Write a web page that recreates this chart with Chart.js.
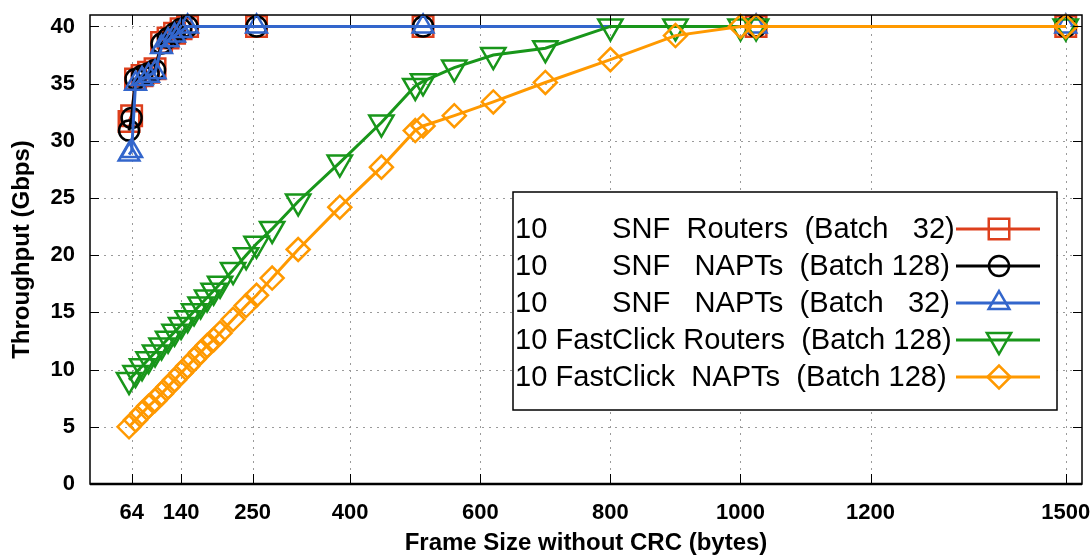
<!DOCTYPE html>
<html>
<head>
<meta charset="utf-8">
<title>Throughput vs frame size</title>
<script src="https://cdn.jsdelivr.net/npm/chart.js@4.4.1/dist/chart.umd.min.js"></script>
<style>
  body { margin: 0; background: #fff; }
  #wrap { width: 1090px; height: 558px; }
</style>
</head>
<body>
<div id="wrap"><canvas id="tputChart" width="1090" height="558"></canvas></div>
<script>
// frame sizes (bytes, without CRC)
const snfSizes = [60, 64, 70, 80, 90, 100, 110, 120, 130, 140, 150, 256, 512, 1024, 1500];
const fcSizes = [60, 70, 80, 90, 100, 110, 120, 130, 140, 150, 160, 170, 180, 190, 200,
  220, 240, 256, 280, 320, 384, 448, 500, 512, 560, 620, 700, 800, 900, 1000, 1024, 1500];

// throughput in Gbps
const snfRouters32 = [31.7, 32.2, 35.4, 35.7, 36.0, 36.3, 38.6, 39.0, 39.4, 39.8, 40.0, 40.0, 40.0, 40.0, 40.0];
const snfNapts128 = [30.9, 32.0, 35.4, 35.7, 35.9, 36.2, 38.5, 39.0, 39.4, 39.8, 40.0, 40.0, 40.0, 40.0, 40.0];
const snfNapts32 = [28.8, 29.1, 35.0, 35.4, 35.7, 36.0, 38.2, 38.8, 39.2, 39.6, 40.0, 40.0, 40.0, 40.0, 40.0];
const fcRouters128 = [9.1, 9.7, 10.3, 10.9, 11.5, 12.1, 12.7, 13.3, 13.9, 14.5, 15.1, 15.7, 16.3, 16.9, 17.5,
  18.7, 20.0, 21.0, 22.3, 24.7, 28.1, 31.6, 34.8, 35.2, 36.4, 37.5, 38.1, 40.0, 40.0, 40.0, 40.0, 40.0];
const fcNapts128 = [5.0, 5.6, 6.2, 6.8, 7.3, 7.9, 8.5, 9.1, 9.7, 10.3, 10.9, 11.5, 12.1, 12.6, 13.2,
  14.4, 15.6, 16.5, 18.0, 20.5, 24.2, 27.7, 30.9, 31.3, 32.2, 33.4, 35.1, 37.1, 39.2, 40.0, 40.0, 40.0];

const xTicks = [64, 140, 250, 400, 600, 800, 1000, 1200, 1500];
const yTicks = [0, 5, 10, 15, 20, 25, 30, 35, 40];

const legendLabels = [
  "10        SNF  Routers  (Batch   32)",
  "10        SNF   NAPTs  (Batch 128)",
  "10        SNF   NAPTs  (Batch   32)",
  "10 FastClick Routers  (Batch 128)",
  "10 FastClick  NAPTs  (Batch 128)"
];

const toPoints = (xs, ys) => xs.map((x, i) => ({ x: x, y: ys[i] }));

const series = [
  { data: toPoints(snfSizes, snfRouters32), color: "#dd3f1c", style: "rect", radius: 14.5, rotation: 0, order: 5 },
  { data: toPoints(snfSizes, snfNapts128), color: "#000000", style: "circle", radius: 10, rotation: 0, order: 4 },
  { data: toPoints(snfSizes, snfNapts32), color: "#3366cc", style: "triangle", radius: 12, rotation: 0, order: 3 },
  { data: toPoints(fcSizes, fcRouters128), color: "#18961a", style: "triangle", radius: 14, rotation: 180, order: 2 },
  { data: toPoints(fcSizes, fcNapts128), color: "#ff9900", style: "rectRot", radius: 11.5, rotation: 0, order: 1 }
];

const datasets = series.map((s, i) => ({
  label: legendLabels[i],
  data: s.data,
  borderColor: s.color,
  borderWidth: 3,
  pointStyle: s.style,
  pointRadius: s.radius,
  pointRotation: s.rotation,
  pointBorderColor: s.color,
  pointBorderWidth: 2.5,
  pointBackgroundColor: "rgba(0,0,0,0)",
  tension: 0,
  clip: false,
  order: s.order
}));

// pin the plot box to where the original has it
const AREA = { left: 90, right: 1082, top: 15, bottom: 484 };
const pinPlugin = {
  id: "pinArea",
  afterLayout(chart) {
    const ca = chart.chartArea;
    Object.assign(ca, AREA);
    ca.width = AREA.right - AREA.left;
    ca.height = AREA.bottom - AREA.top;
    const { x, y } = chart.scales;
    x.left = AREA.left; x.right = AREA.right; x.width = ca.width;
    x.top = AREA.bottom; x.bottom = chart.height; x.height = x.bottom - x.top;
    y.top = AREA.top; y.bottom = AREA.bottom; y.height = ca.height;
    y.left = 0; y.right = AREA.left; y.width = AREA.left;
    x.configure(); y.configure();
  }
};

// dotted grid behind the data
const gridPlugin = {
  id: "dottedGrid",
  beforeDatasetsDraw(chart) {
    const { ctx, chartArea: a, scales } = chart;
    ctx.save();
    ctx.strokeStyle = "#9a9a9a";
    ctx.lineWidth = 1;
    ctx.setLineDash([2, 5]);
    xTicks.forEach(v => {
      const px = Math.round(scales.x.getPixelForValue(v)) + 0.5;
      ctx.beginPath(); ctx.moveTo(px, a.bottom); ctx.lineTo(px, a.top); ctx.stroke();
    });
    yTicks.forEach(v => {
      if (v === 0) return;
      const py = Math.round(scales.y.getPixelForValue(v)) + 0.5;
      ctx.beginPath(); ctx.moveTo(a.left, py); ctx.lineTo(a.right, py); ctx.stroke();
    });
    ctx.restore();
  }
};

// border, inward ticks and the boxed legend
const framePlugin = {
  id: "frameAndKey",
  afterDraw(chart) {
    const { ctx, chartArea: a, scales } = chart;
    ctx.save();
    ctx.strokeStyle = "#000";
    ctx.lineWidth = 1.5;
    ctx.setLineDash([]);
    ctx.strokeRect(a.left, a.top, a.right - a.left, a.bottom - a.top);
    ctx.lineWidth = 2.5;
    ctx.beginPath(); ctx.moveTo(a.left, a.bottom); ctx.lineTo(a.right, a.bottom); ctx.stroke();
    ctx.lineWidth = 1;
    xTicks.forEach(v => {
      const px = Math.round(scales.x.getPixelForValue(v)) + 0.5;
      ctx.beginPath();
      ctx.moveTo(px, a.bottom); ctx.lineTo(px, a.bottom - 10);
      ctx.moveTo(px, a.top); ctx.lineTo(px, a.top + 10);
      ctx.stroke();
    });
    yTicks.forEach(v => {
      const py = Math.round(scales.y.getPixelForValue(v)) + 0.5;
      ctx.beginPath();
      ctx.moveTo(a.left, py); ctx.lineTo(a.left + 9, py);
      ctx.moveTo(a.right, py); ctx.lineTo(a.right - 9, py);
      ctx.stroke();
    });

    // key box
    const box = { x: 513, y: 192, w: 544, h: 218 };
    ctx.fillStyle = "#fff";
    ctx.fillRect(box.x, box.y, box.w, box.h);
    ctx.lineWidth = 1.5;
    ctx.strokeRect(box.x, box.y, box.w, box.h);

    ctx.font = "29.1px 'Liberation Sans', Arial, sans-serif";
    ctx.textBaseline = "middle";
    ctx.textAlign = "left";
    series.forEach((s, i) => {
      const y = 229 + i * 37;
      ctx.fillStyle = "#000";
      ctx.fillText(legendLabels[i], 515, y + 1);
      ctx.strokeStyle = s.color;
      ctx.lineWidth = 3;
      ctx.beginPath(); ctx.moveTo(956, y); ctx.lineTo(1040, y); ctx.stroke();
      ctx.lineWidth = 2.5;
      ctx.fillStyle = "rgba(0,0,0,0)";
      Chart.helpers.drawPoint(ctx, {
        pointStyle: s.style, radius: s.radius, rotation: s.rotation, borderWidth: 2.5
      }, 999, y);
    });
    ctx.restore();
  }
};

const boldFont = (size) => ({ family: "'Liberation Sans', Arial, sans-serif", size: size, weight: "bold" });

new Chart(document.getElementById("tputChart"), {
  type: "line",
  data: { datasets: datasets },
  options: {
    responsive: false,
    devicePixelRatio: 1,
    animation: false,
    layout: { padding: { top: 15, right: 8, left: 0, bottom: 0 } },
    plugins: { legend: { display: false }, tooltip: { enabled: false } },
    scales: {
      x: {
        type: "linear",
        min: 0,
        max: 1525,
        afterBuildTicks: (scale) => { scale.ticks = xTicks.map(v => ({ value: v })); },
        afterFit: (scale) => {
          scale.height = 74;
          scale.paddingLeft = 0;
          scale.paddingRight = 0;
        },
        ticks: {
          color: "#000", font: boldFont(22), padding: 16, maxRotation: 0, autoSkip: false,
          callback: (v) => String(v)
        },
        grid: { display: false, drawTicks: false },
        border: { display: false },
        title: {
          display: true,
          text: "Frame Size without CRC (bytes)",
          color: "#000",
          font: boldFont(24),
          padding: { top: 0, bottom: 0 }
        }
      },
      y: {
        min: 0,
        max: 41,
        afterBuildTicks: (scale) => { scale.ticks = yTicks.map(v => ({ value: v })); },
        afterFit: (scale) => {
          scale.width = 90;
          scale.paddingTop = 0;
          scale.paddingBottom = 0;
        },
        ticks: { color: "#000", font: boldFont(22), padding: 15, callback: (v) => String(v) },
        grid: { display: false, drawTicks: false },
        border: { display: false },
        title: {
          display: true,
          text: "Throughput (Gbps)",
          color: "#000",
          font: boldFont(24),
          padding: { top: 8, bottom: 0 }
        }
      }
    }
  },
  plugins: [pinPlugin, gridPlugin, framePlugin]
});
</script>
</body>
</html>
